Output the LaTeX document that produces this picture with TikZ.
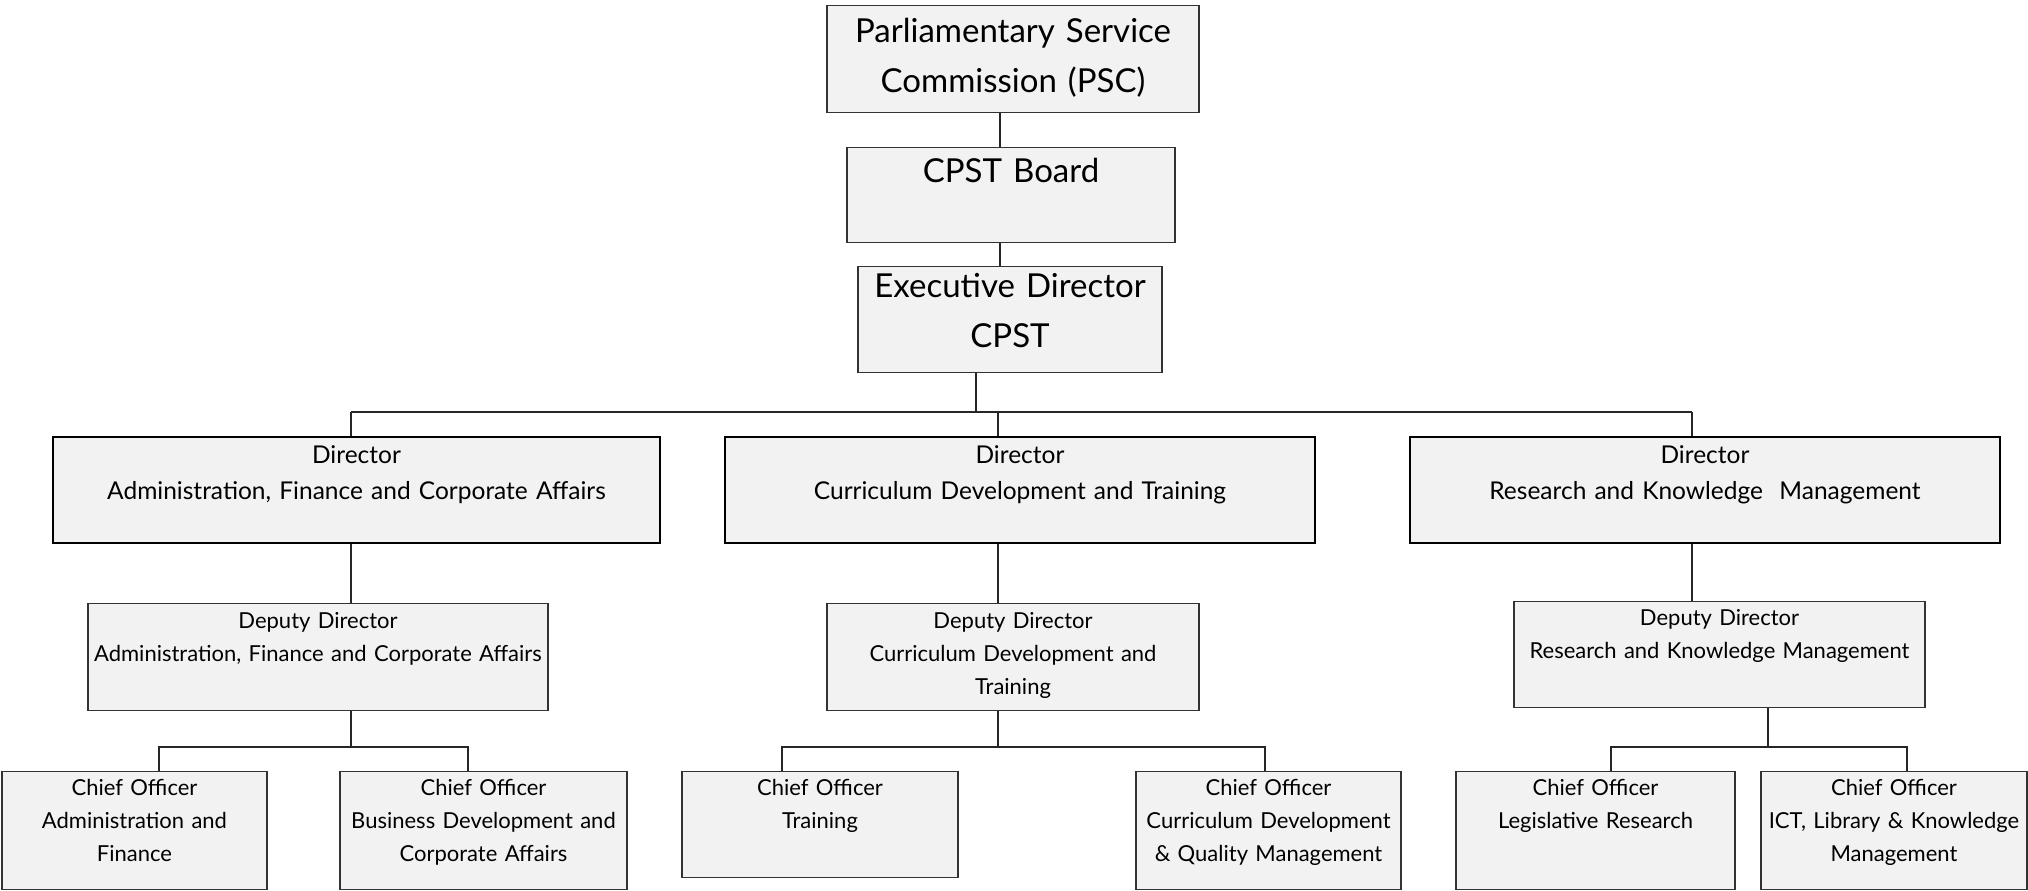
\documentclass[tikz,border=0pt]{standalone}
\usepackage{fontspec}
\setmainfont{Lato}
\usetikzlibrary{positioning,calc}
\definecolor{boxfill}{HTML}{F2F2F2}
\tikzset{
  orgbox/.style={draw=black!80,line width=0.7pt,fill=boxfill,inner sep=0pt,
    align=center,anchor=north},
  topbox/.style={orgbox,font=\fontsize{16.5}{25}\selectfont},     % PSC, board, ED
  dirbox/.style={orgbox,draw=black,line width=1pt,
    font=\fontsize{12.25}{18}\selectfont},                       % directors
  subbox/.style={orgbox,font=\fontsize{11}{16.5}\selectfont},     % deputies, chiefs
  link/.style={line width=0.6pt,black!85},
}

\begin{document}
\begin{tikzpicture}[x=0.5pt,y=-0.5pt]
  \useasboundingbox (0,0) rectangle (2028,890);
  % top of the tree
  \node[topbox,text width=186pt,text height=18.5pt,text depth=35pt] (psc) at (1013,5)
    {Parliamentary Service\\Commission (PSC)};
  \node[topbox,text width=164pt,text height=17.5pt,text depth=30pt] (board) at (1011,147)
    {CPST Board};
  \node[topbox,text width=152pt,text height=15.5pt,text depth=37.5pt] (exec) at (1010,266)
    {Executive Director\\CPST};
  % directors
  \node[dirbox,text width=303.5pt,text height=13pt,text depth=40pt] (d1) at (356.5,436)
    {Director\\Administration, Finance and Corporate Affairs};
  \node[dirbox,text width=295pt,text height=13pt,text depth=40pt] (d2) at (1020,436)
    {Director\\Curriculum Development and Training};
  \node[dirbox,text width=295pt,text height=13pt,text depth=40pt] (d3) at (1705,436)
    {Director\\Research and Knowledge\ \ Management};
  % deputy directors
  \node[subbox,text width=230pt,text height=12.5pt,text depth=41pt] (dp1) at (318,603)
    {Deputy Director\\Administration, Finance and Corporate Affairs};
  \node[subbox,text width=186pt,text height=12.5pt,text depth=41pt] (dp2) at (1013,603)
    {Deputy Director\\Curriculum Development and\\Training};
  \node[subbox,text width=205.5pt,text height=12pt,text depth=41pt] (dp3) at (1719.5,601)
    {Deputy Director\\Research and Knowledge Management};
  % chief officers
  \node[subbox,text width=132.5pt,text height=12pt,text depth=47pt] (c1) at (134.5,771)
    {Chief Officer\\Administration and\\Finance};
  \node[subbox,text width=143.5pt,text height=12pt,text depth=47pt] (c2) at (483.5,771)
    {Chief Officer\\Business Development and\\Corporate Affairs};
  \node[subbox,text width=138pt,text height=12pt,text depth=41pt] (c3) at (820,771)
    {Chief Officer\\Training};
  \node[subbox,text width=132.5pt,text height=12pt,text depth=47pt] (c4) at (1268.5,771)
    {Chief Officer\\Curriculum Development\\\& Quality Management};
  \node[subbox,text width=139.5pt,text height=12pt,text depth=47pt] (c5) at (1595.5,771)
    {Chief Officer\\Legislative Research};
  \node[subbox,text width=133pt,text height=12pt,text depth=47pt] (c6) at (1894,771)
    {Chief Officer\\ICT, Library \& Knowledge\\Management};

  % connectors
  \coordinate (spine) at (1000,0);
  \draw[link] (spine |- psc.south) -- (spine |- board.north);
  \draw[link] (spine |- board.south) -- (spine |- exec.north);
  \coordinate (bar) at (976,412);
  \coordinate (j1) at (351,412);
  \coordinate (j2) at (998,412);
  \coordinate (j3) at (1692,412);
  \draw[link] (bar |- exec.south) -- (bar);
  \draw[link] (j1) -- (j3);
  \foreach \i in {1,2,3}{
    \draw[link] (j\i) -- (j\i |- d\i.north);
    \draw[link] (j\i |- d\i.south) -- (j\i |- dp\i.north);
  }
  \coordinate (s1) at (351,747);
  \coordinate (s2) at (998,747);
  \coordinate (s3) at (1768,747);
  \coordinate (l1) at (159,747);  \coordinate (r1) at (468,747);
  \coordinate (l2) at (782,747);  \coordinate (r2) at (1265,747);
  \coordinate (l3) at (1611,747); \coordinate (r3) at (1907,747);
  \foreach \i/\a/\b in {1/c1/c2,2/c3/c4,3/c5/c6}{
    \draw[link] (s\i |- dp\i.south) -- (s\i);
    \draw[link] (l\i |- \a.north) -- (l\i) -- (r\i) -- (r\i |- \b.north);
  }
\end{tikzpicture}
\end{document}
